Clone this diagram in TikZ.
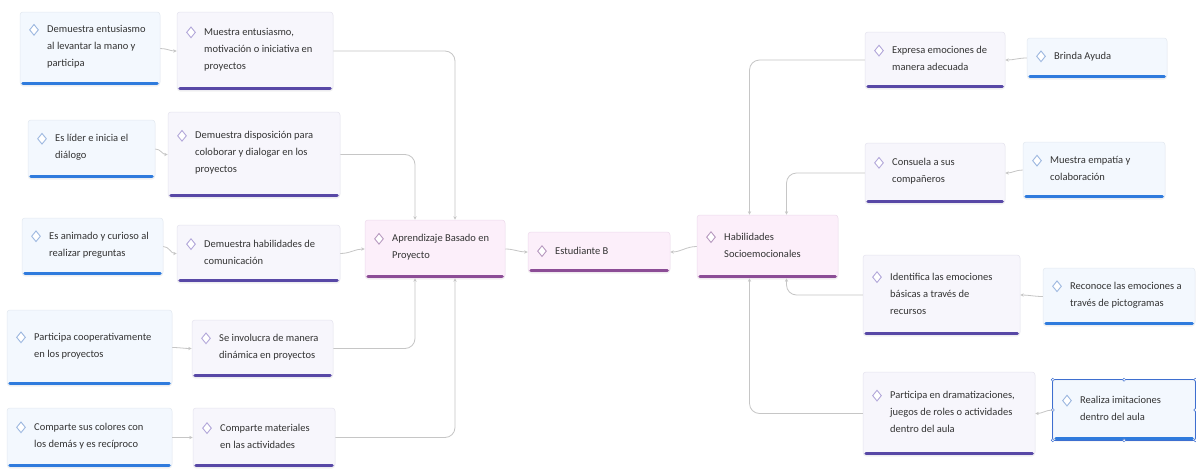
\documentclass[tikz,border=0pt]{standalone}
\usepackage{fontspec}
\setmainfont{Carlito}
\usetikzlibrary{shapes.geometric,arrows.meta,shadows}
\definecolor{cFillB}{HTML}{F3F8FE}
\definecolor{cEdgeB}{HTML}{E2E8F0}
\definecolor{cBarB}{HTML}{2F7BDD}
\definecolor{cDiaB}{HTML}{9DB8E0}
\definecolor{cFillP}{HTML}{F7F6FC}
\definecolor{cEdgeP}{HTML}{E5E3EE}
\definecolor{cBarP}{HTML}{5848A6}
\definecolor{cDiaP}{HTML}{B3A8DA}
\definecolor{cFillH}{HTML}{FCEFFA}
\definecolor{cEdgeH}{HTML}{EDDAEC}
\definecolor{cBarH}{HTML}{8C4D96}
\definecolor{cDiaH}{HTML}{B89AC0}
\definecolor{cText}{HTML}{333333}
\definecolor{cLine}{HTML}{C6C6C6}
\definecolor{cSel}{HTML}{3E6FD0}
\tikzset{
  boxbase/.style={rectangle, rounded corners=3pt, line width=0.5pt, inner sep=0pt,
    drop shadow={shadow xshift=0pt, shadow yshift=-1.5pt, opacity=0.10}},
  boxB/.style={boxbase, fill=cFillB, draw=cEdgeB},
  boxP/.style={boxbase, fill=cFillP, draw=cEdgeP},
  boxH/.style={boxbase, fill=cFillH, draw=cEdgeH},
  barB/.style={line width=3pt, draw=cBarB, line cap=round},
  barP/.style={line width=3pt, draw=cBarP, line cap=round},
  barH/.style={line width=3pt, draw=cBarH, line cap=round},
  diabase/.style={diamond, minimum width=9pt, minimum height=11pt, inner sep=0pt, line width=0.9pt, fill=white},
  diaB/.style={diabase, draw=cDiaB},
  diaP/.style={diabase, draw=cDiaP},
  diaH/.style={diabase, draw=cDiaH},
  txt/.style={font=\fontsize{10.5}{17}\selectfont, align=left, inner sep=0pt, text=cText},
  conn/.style={draw=cLine, line width=0.8pt, rounded corners=10pt, -{Stealth[length=3.5pt,width=3.2pt]}},
}
\newcommand\mindbox[7]{%
  \node[box#6, minimum width={#4-#2}, minimum height={#5-#3}] (#1) at ({(#2+#4)/2},{(#3+#5)/2}) {};
  \draw[bar#6] ([xshift=3pt,yshift=1.5pt]#1.south west) -- ([xshift=-3pt,yshift=1.5pt]#1.south east);
  \node[txt, anchor=west] (#1-t) at ({#2+27},{(#3+#5)/2-1.5}) {#7};
  \node[dia#6] (#1-d) at ([xshift=-13pt,yshift=-4.5pt]#1-t.north west) {};
}
\begin{document}
\begin{tikzpicture}[x=1pt,y=-1pt]
\useasboundingbox[fill=white] (0,0) rectangle (1196,471);
% left leaves
\mindbox{L1}{20}{12}{160}{85}{B}{Demuestra entusiasmo\\al levantar la mano y\\participa}
\mindbox{L2}{28}{120}{155}{178}{B}{Es líder e inicia el\\diálogo}
\mindbox{L3}{22}{218}{163}{275}{B}{Es animado y curioso al\\realizar preguntas}
\mindbox{L4}{7}{310}{172}{385}{B}{Participa cooperativamente\\en los proyectos}
\mindbox{L5}{7}{408}{172}{467}{B}{Comparte sus colores con\\los demás y es recíproco}
% middle left
\mindbox{M1}{177}{12}{333}{90}{P}{Muestra entusiasmo,\\motivación o iniciativa en\\proyectos}
\mindbox{M2}{168}{112}{340}{197}{P}{Demuestra disposición para\\coloborar y dialogar en los\\proyectos}
\mindbox{M3}{177}{225}{340}{282}{P}{Demuestra habilidades de\\comunicación}
\mindbox{M4}{192}{320}{333}{377}{P}{Se involucra de manera\\dinámica en proyectos}
\mindbox{M5}{193}{408}{335}{467}{P}{Comparte materiales\\en las actividades}
% hubs
\mindbox{Hub}{365}{220}{505}{278}{H}{Aprendizaje Basado en\\Proyecto}
\mindbox{C}{528}{232}{670}{272}{H}{Estudiante B}
\mindbox{H}{697}{215}{838}{278}{H}{Habilidades\\Socioemocionales}
% right
\mindbox{R1}{865}{32}{1005}{88}{P}{Expresa emociones de\\manera adecuada}
\mindbox{R2}{865}{143}{1005}{203}{P}{Consuela a sus\\compañeros}
\mindbox{R3}{863}{255}{1020}{335}{P}{Identifica las emociones\\básicas a través de\\recursos}
\mindbox{R4}{863}{372}{1035}{455}{P}{Participa en dramatizaciones,\\juegos de roles o actividades\\dentro del aula}
\mindbox{R1b}{1027}{38}{1167}{78}{B}{Brinda Ayuda}
\mindbox{R2b}{1023}{142}{1165}{198}{B}{Muestra empatía y\\colaboración}
\mindbox{R3b}{1043}{268}{1195}{325}{B}{Reconoce las emociones a\\través de pictogramas}
\mindbox{R4b}{1053}{380}{1195}{440}{B}{Realiza imitaciones\\dentro del aula}
% selection frame on R4b
\draw[cSel, line width=0.6pt] (R4b.south west) rectangle (R4b.north east);
\foreach \a in {north west,north,north east,east,south east,south,south west,west}
  \filldraw[draw=cSel, fill=white, line width=0.5pt] (R4b.\a) circle (1.6pt);
% connectors left
\draw[conn] (L1.east) to[out=0,in=180] (M1.west);
\draw[conn] (L2.east) to[out=0,in=180] (M2.west);
\draw[conn] (L3.east) to[out=0,in=180] (M3.west);
\draw[conn] (L4.east) to[out=0,in=180] (M4.west);
\draw[conn] (L5.east) to[out=0,in=180] (M5.west);
\draw[conn] (M1.east) -| ([xshift=20pt]Hub.north);
\draw[conn] (M2.east) -| ([xshift=-20pt]Hub.north);
\draw[conn] (M3.east) to[out=0,in=180] (Hub.west);
\draw[conn] (M4.east) -| ([xshift=-20pt]Hub.south);
\draw[conn] (M5.east) -| ([xshift=20pt]Hub.south);
\draw[conn] (Hub.east) to[out=0,in=180] (C.west);
\draw[conn] (H.west) to[out=180,in=0] (C.east);
% connectors right
\draw[conn] (R1.west) -| ([xshift=-18pt]H.north);
\draw[conn] (R2.west) -| ([xshift=19pt]H.north);
\draw[conn] (R3.west) -| ([xshift=19pt]H.south);
\draw[conn] (R4.west) -| ([xshift=-18pt]H.south);
\draw[conn] (R1b.west) to[out=180,in=0] (R1.east);
\draw[conn] (R2b.west) to[out=180,in=0] (R2.east);
\draw[conn] (R3b.west) to[out=180,in=0] (R3.east);
\draw[conn] (R4b.west) to[out=180,in=0] (R4.east);
\end{tikzpicture}
\end{document}
